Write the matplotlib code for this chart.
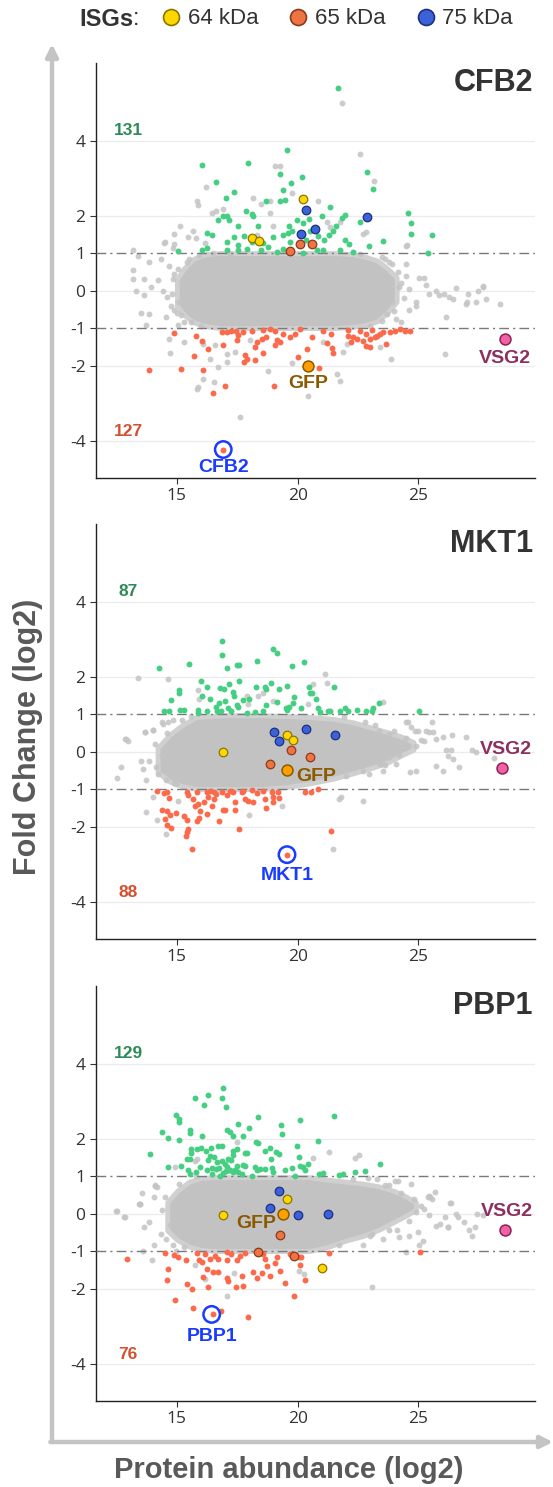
import matplotlib.pyplot as plt
from matplotlib.lines import Line2D

plt.rcParams['font.family'] = ['Liberation Sans', 'DejaVu Sans']
plt.rcParams['axes.unicode_minus'] = False

# ---------------- data ----------------
# CFB2 panel
cfb2_core_x = [15.0, 15.3, 15.7, 16.2, 16.8, 17.5, 21.5, 22.3, 22.8, 23.3, 23.7, 24.1]
cfb2_core_hi = [0.3, 0.6, 0.85, 0.97, 1.0, 1.0, 1.0, 0.97, 0.9, 0.8, 0.6, 0.35]
cfb2_core_lo = [-0.4, -0.65, -0.85, -0.95, -1.0, -1.0, -1.0, -0.97, -0.92, -0.82, -0.6, -0.3]
cfb2_gray = [
    (21.82, 5.01), (22.59, 3.64), (19.06, 3.31), (19.25, 3.32), (16.19, 2.77), (23.16, 2.93),
    (19.78, 2.61), (18.16, 2.47), (15.84, 2.38), (15.88, 2.27), (20.84, 2.39), (16.46, 2.07),
    (16.62, 2.12), (16.92, 2.18), (18.47, 2.31), (18.85, 2.07), (18.96, 1.73), (21.2, 1.82),
    (21.34, 1.69), (15.11, 1.71), (14.89, 1.50), (15.47, 1.44), (15.65, 1.60), (15.81, 1.40),
    (16.16, 1.26), (14.52, 1.29), (14.85, 1.13), (13.19, 1.08), (24.51, 1.22), (22.72, 1.51),
    (22.85, 1.57), (18.85, 2.4), (21.75, 1.82), (18.3, 1.47), (14.48, 1.28), (14.89, 1.24),
    (24.48, 1.19),
    (13.37, 0.91), (13.85, 0.77), (14.34, 0.84), (13.19, 0.55), (13.19, 0.31), (13.65, 0.31),
    (14.2, 0.27), (13.92, 0.09), (13.3, 0.0), (13.65, -0.13), (14.41, 0.0), (14.61, -0.18),
    (13.51, -0.59), (13.85, -0.62), (14.54, -0.71), (14.89, -0.53), (13.72, -0.93), (14.75, -0.4),
    (15.03, 0.58), (14.68, 0.66), (15.17, -0.66), (15.03, -0.93), (14.82, 0.31), (15.5, 0.85),
    (15.3, -0.85), (15.2, 0.1), (15.1, -0.3), (23.5, 0.9), (23.9, -0.3), (24.3, 0.2), (24.6, 0.05),
    (14.9, 0.45), (14.8, -0.1), (15.0, -0.6), (15.4, 0.75), (15.6, -0.85), (15.9, 0.95),
    (16.0, -0.95), (23.9, 0.7), (24.2, 0.1), (24.0, -0.55), (23.6, 0.85), (23.5, -0.8),
    (24.4, -0.2), (24.5, 0.4), (16.5, 1.0), (17.2, 0.98), (22.6, 0.98), (23.0, -0.95),
    (23.79, 0.75), (24.14, 0.49), (24.48, 0.71), (25.03, 0.33), (25.24, 0.33), (25.72, 0.0),
    (26.07, -0.09), (26.28, -0.18), (26.55, 0.06), (26.97, -0.35), (27.38, -0.31), (27.45, 0.0),
    (27.68, 0.09), (28.37, -0.37), (26.14, -0.71), (24.9, -0.31), (24.9, -0.4), (24.62, -0.53),
    (25.45, -0.09), (25.86, -0.13), (24.07, -0.75), (24.27, -0.84), (23.72, -0.62), (27.06, -0.09),
    (25.31, 0.15), (27.69, 0.11), (27.82, -0.22), (27.0, -0.31), (26.44, -0.22),
    (14.68, -1.29), (14.71, -1.67), (15.29, -1.38), (15.88, -2.58), (15.84, -2.62), (16.09, -2.37),
    (16.53, -2.44), (16.70, -2.04), (17.06, -1.69), (17.06, -1.91), (16.37, -1.82), (17.40, -1.63),
    (17.61, -3.38), (18.77, -2.15), (19.75, -1.94), (20.45, -2.82), (21.64, -2.22), (21.75, -2.40),
    (21.89, -1.63), (23.86, -1.83), (26.10, -1.69), (16.09, -1.42), (16.57, -1.44), (18.02, -1.33),
    (21.06, -1.38), (22.03, -1.42), (23.43, -1.51),
]
cfb2_up = [
    (21.68, 5.40), (19.54, 3.75), (16.06, 3.36), (17.93, 3.39), (19.29, 3.11), (20.18, 3.04),
    (22.88, 3.16), (16.64, 2.90), (19.72, 2.87), (23.13, 2.72), (17.36, 2.64), (19.39, 2.68),
    (17.04, 2.46), (19.46, 2.42), (19.27, 2.38), (18.67, 2.40), (21.36, 2.24), (24.59, 2.08),
    (17.86, 2.11), (18.09, 2.04), (18.16, 1.98), (16.92, 2.0), (17.06, 2.0), (20.47, 1.91),
    (21.98, 2.02), (21.83, 1.93), (20.99, 1.99), (16.71, 1.87), (17.17, 1.87), (19.96, 1.87),
    (22.59, 1.82), (24.70, 1.79), (17.53, 1.72), (18.37, 1.71), (19.65, 1.71), (20.23, 1.79),
    (21.58, 1.72), (21.47, 1.59), (16.23, 1.54), (16.45, 1.47), (17.35, 1.42), (17.77, 1.45),
    (19.61, 1.54), (18.98, 1.42), (19.38, 1.49), (20.85, 1.46), (21.09, 1.36), (21.31, 1.47),
    (21.97, 1.35), (23.52, 1.32), (24.70, 1.51), (25.55, 1.49), (22.94, 1.19), (22.14, 1.25),
    (17.08, 1.29), (17.54, 1.22), (18.09, 1.29), (18.58, 1.26), (18.78, 1.16), (15.06, 1.06),
    (16.05, 1.07), (16.26, 1.14), (17.06, 1.08), (17.53, 1.09), (18.48, 1.07), (19.13, 1.02),
    (19.40, 1.10), (20.23, 1.01), (20.80, 1.07), (21.06, 1.07), (21.75, 1.08), (22.30, 1.03),
    (25.41, 1.01), (19.76, 1.60), (20.34, 1.35), (20.51, 1.60), (19.68, 1.29), (17.89, 1.11),
]
cfb2_down = [
    (13.86, -2.12), (15.17, -2.09), (16.10, -2.12), (15.72, -1.75), (16.48, -2.74), (17.00, -2.54),
    (19.03, -2.54), (20.87, -2.07), (20.02, -1.78), (20.37, -1.55), (14.89, -1.13), (15.81, -1.20),
    (16.02, -1.35), (16.28, -1.56), (16.92, -1.44), (16.85, -1.11), (17.06, -1.11), (17.26, -1.07),
    (17.47, -1.33), (17.54, -1.18), (17.75, -1.11), (17.82, -1.73), (17.89, -1.82), (17.77, -1.91),
    (18.09, -1.08), (18.23, -1.51), (18.58, -1.66), (18.23, -1.85), (18.58, -1.05), (18.71, -1.24),
    (18.85, -1.02), (19.06, -1.07), (19.13, -1.33), (19.27, -1.38), (19.40, -1.16), (19.68, -1.24),
    (19.89, -1.16), (20.09, -1.02), (20.58, -1.24), (21.06, -1.09), (21.38, -1.17), (21.23, -1.40),
    (21.41, -1.53), (21.45, -1.66), (22.10, -1.05), (22.30, -1.24), (22.44, -1.29), (22.58, -1.07),
    (22.72, -1.35), (22.85, -1.16), (22.99, -1.29), (23.10, -1.05), (23.20, -1.24), (23.27, -1.20),
    (23.41, -1.16), (23.54, -1.11), (23.68, -1.42), (23.82, -1.11), (24.03, -1.07), (24.23, -1.02),
    (24.44, -1.07), (24.65, -1.08), (22.23, -1.38), (22.85, -1.47), (22.99, -1.51), (22.07, -1.20),
    (17.43, -1.07), (18.51, -1.29), (19.06, -1.44), (18.30, -1.36), (16.92, -4.24),
]
cfb2_isg64 = [(20.22, 2.44), (18.13, 1.41), (18.38, 1.33)]
cfb2_isg65 = [(20.11, 1.24), (20.58, 1.25), (19.67, 1.05)]
cfb2_isg75 = [(20.36, 2.16), (20.14, 1.52), (20.70, 1.64), (22.87, 1.96)]
cfb2_gfp = (20.45, -2.01)
cfb2_vsg2 = (28.58, -1.29)
cfb2_target = (16.92, -4.24)
cfb2_counts = (131, 127)

# MKT1 panel
mkt1_core_x = [14.2, 14.7, 15.2, 15.8, 17.0, 18.5, 19.5, 20.5, 21.5, 22.3, 23.0, 23.7, 24.3, 24.8]
mkt1_core_hi = [0.1, 0.45, 0.7, 0.92, 0.97, 0.97, 0.95, 0.92, 0.87, 0.78, 0.65, 0.52, 0.4, 0.25]
mkt1_core_lo = [-0.55, -0.8, -0.92, -1.0, -1.0, -1.0, -0.95, -0.85, -0.72, -0.58, -0.45, -0.3, -0.1, 0.05]
mkt1_gray = [
    (13.40, 1.97), (14.64, 1.93), (21.12, 2.06), (21.23, 1.82), (20.65, 1.80), (20.44, 1.26),
    (18.99, 1.36), (18.37, 1.49), (17.95, 1.27), (15.86, 1.63), (15.93, 1.40), (23.54, 1.32),
    (17.89, 1.49), (18.58, 1.56), (14.37, 0.80), (14.64, 0.80), (14.02, 0.58), (13.68, 0.52),
    (12.85, 0.34), (24.55, 0.78), (25.57, 0.79), (25.61, 0.51), (24.86, 0.54),
    (12.68, -0.42), (12.50, -0.71), (12.89, 0.34), (12.98, 0.29), (13.69, 0.52), (13.99, 0.58),
    (13.51, -0.24), (13.85, -0.24), (13.58, -0.46), (13.74, -0.77), (14.13, -0.42), (14.20, -0.60),
    (14.1, 0.2), (14.4, -0.1), (14.6, 0.5), (14.9, -0.85), (15.2, 0.85), (15.6, 0.95),
    (24.0, 0.55), (24.5, 0.35), (24.9, 0.15), (25.1, 0.3), (24.2, -0.1), (23.6, -0.35),
    (22.8, 0.8), (21.9, 0.92), (22.0, -0.65), (23.2, 0.7),
    (25.45, 0.52), (25.72, 0.34), (26.00, 0.38), (26.41, 0.43), (26.14, 0.03), (26.35, 0.03),
    (25.72, -0.39), (26.04, -0.51), (26.69, -0.40), (27.24, 0.03), (27.38, -0.02), (28.14, -0.17),
    (24.48, 0.78), (24.69, 0.65), (24.97, 0.56), (25.31, 0.56), (25.24, 0.29), (24.90, -0.51),
    (24.07, -0.33), (23.79, -0.15), (23.45, -0.33), (23.52, -0.51), (22.96, -0.60), (22.69, -0.51),
    (21.79, -1.22), (14.41, 0.74), (14.82, 0.83), (14.55, -0.77), (14.96, -0.86), (23.38, 0.56),
    (23.79, 0.47), (24.34, 0.25), (26.99, 0.38), (26.24, -0.11), (26.44, -0.20), (24.65, -0.55),
    (23.41, -0.33), (14.02, -1.22), (13.74, -1.60), (14.16, -1.82), (14.55, -2.21), (15.06, -1.31),
    (18.00, -1.68), (19.36, -1.44), (21.47, -2.60), (21.72, -1.26), (22.72, -1.32),
]
mkt1_up = [
    (16.85, 2.94), (18.96, 2.73), (19.13, 2.63), (16.86, 2.57), (14.25, 2.22), (15.50, 2.34),
    (17.06, 2.23), (17.47, 2.31), (17.57, 2.31), (18.30, 2.42), (19.78, 2.28), (20.26, 2.38),
    (15.99, 1.87), (16.26, 1.72), (15.10, 1.65), (15.10, 1.56), (16.78, 1.69), (16.96, 1.67),
    (17.17, 1.81), (17.58, 1.88), (17.33, 1.60), (17.36, 1.47), (18.27, 1.72), (18.64, 1.73),
    (18.71, 1.67), (18.89, 1.84), (19.24, 1.67), (19.57, 1.76), (20.48, 1.72), (20.51, 1.56),
    (20.58, 1.56), (21.52, 1.72), (14.75, 1.37), (16.02, 1.49), (16.37, 1.39), (16.73, 1.29),
    (16.64, 1.18), (17.00, 1.36), (17.47, 1.25), (17.75, 1.38), (17.99, 1.41), (17.89, 1.02),
    (18.58, 1.09), (18.69, 1.23), (19.13, 1.31), (19.54, 1.11), (19.65, 1.20), (19.84, 1.45),
    (19.82, 1.30), (20.13, 1.16), (20.78, 1.40), (20.83, 1.16), (20.92, 1.05), (14.46, 1.07),
    (14.67, 1.07), (15.13, 1.12), (15.30, 1.12), (15.88, 1.12), (15.88, 1.02), (16.23, 1.07),
    (16.68, 1.09), (16.82, 1.09), (17.13, 1.16), (17.26, 1.07), (17.54, 1.18), (18.23, 1.05),
    (19.50, 1.16), (21.27, 1.07), (21.34, 1.09), (21.75, 1.09), (21.96, 1.16), (22.10, 1.07),
    (22.44, 1.12), (22.83, 1.08), (23.06, 1.07), (23.13, 1.16), (23.38, 1.29), (25.02, 1.08),
]
mkt1_down = [
    (14.16, -1.06), (14.46, -1.11), (14.60, -1.08), (14.68, -1.24), (14.38, -1.55), (14.61, -1.59),
    (14.71, -1.69), (14.50, -1.80), (14.60, -1.97), (14.75, -2.03), (14.96, -1.65), (15.30, -1.72),
    (15.43, -1.82), (15.47, -2.06), (15.43, -2.15), (15.36, -2.25), (15.64, -2.60), (15.40, -1.08),
    (15.48, -1.16), (15.84, -1.08), (15.68, -1.26), (15.75, -1.44), (15.88, -1.40), (15.95, -1.59),
    (15.82, -1.84), (15.91, -1.78), (16.23, -1.08), (16.30, -1.22), (16.37, -1.04), (16.53, -1.07),
    (16.64, -1.13), (16.12, -1.35), (16.23, -1.66), (16.44, -1.44), (16.53, -1.26), (16.73, -1.84),
    (16.85, -1.08), (16.92, -1.56), (16.99, -1.57), (17.06, -1.17), (17.20, -1.04), (17.33, -1.08),
    (17.42, -1.35), (17.42, -1.55), (17.57, -2.07), (17.68, -1.08), (17.75, -1.04), (17.82, -1.26),
    (17.95, -1.32), (18.09, -1.02), (18.16, -1.35), (18.30, -1.11), (18.58, -1.04), (18.64, -1.26),
    (18.71, -1.50), (18.92, -1.08), (18.96, -1.35), (18.99, -1.22), (19.20, -1.08), (19.22, -1.24),
    (20.30, -1.09), (20.54, -1.08), (20.83, -1.00), (21.38, -2.12), (19.56, -2.75),
]
mkt1_isg64 = [(19.54, 0.44), (19.80, 0.31), (16.89, -0.01)]
mkt1_isg65 = [(19.73, 0.04), (20.52, -0.15), (18.85, -0.33)]
mkt1_isg75 = [(19.04, 0.51), (19.24, 0.27), (20.36, 0.60), (21.53, 0.43)]
mkt1_gfp = (19.58, -0.48)
mkt1_vsg2 = (28.47, -0.44)
mkt1_target = (19.56, -2.75)
mkt1_counts = (87, 88)

# PBP1 panel
pbp1_core_x = [14.6, 15.0, 15.5, 16.0, 16.6, 20.5, 21.3, 22.0, 22.7, 23.4, 24.0, 24.5, 24.9]
pbp1_core_hi = [0.3, 0.6, 0.85, 0.95, 0.97, 0.97, 0.9, 0.85, 0.8, 0.72, 0.6, 0.45, 0.3]
pbp1_core_lo = [-0.45, -0.7, -0.88, -0.97, -1.0, -1.0, -0.88, -0.72, -0.6, -0.42, -0.22, -0.05, 0.1]
pbp1_gray = [
    (17.47, 1.90), (21.30, 1.64), (20.63, 1.49), (22.37, 1.49), (22.55, 1.56), (14.92, 1.24),
    (14.09, 0.73), (14.16, 0.72), (13.54, 0.54), (13.47, 0.26), (15.82, 1.46), (25.45, 0.48),
    (25.55, 0.39), (24.68, 0.79), (24.17, 0.86), (22.92, 0.94), (23.27, 0.92), (26.31, 0.29),
    (15.75, 1.39),
    (12.47, 0.08), (12.82, -0.10), (13.44, 0.26), (14.10, 0.75), (14.06, 0.44), (13.65, -0.36),
    (13.85, -0.23), (14.34, -0.54), (14.54, -0.68), (14.06, -0.85), (14.82, -0.85), (14.96, -1.01),
    (14.4, 0.1), (14.5, 0.45), (14.7, -0.3), (15.1, 0.8), (15.3, -0.9), (15.8, 1.0),
    (24.3, 0.55), (24.8, 0.4), (25.1, 0.2), (24.6, -0.2), (24.1, -0.45), (23.8, 0.75),
    (22.3, 0.92), (21.7, -0.85), (23.0, -0.6),
    (24.90, 0.04), (25.24, 0.12), (25.45, -0.05), (25.72, -0.32), (26.11, -0.10), (26.21, -0.36),
    (26.55, -0.01), (26.90, -0.23), (27.24, -0.59), (27.35, -0.36), (27.66, -0.05), (24.62, -0.59),
    (24.97, -0.50), (24.20, -0.63), (23.79, -0.45), (23.52, -0.68), (23.10, -0.54), (22.69, -0.85),
    (24.48, -1.03), (25.03, -0.85), (25.38, 0.44), (25.70, 0.57), (24.04, 0.88), (23.63, 0.76),
    (12.50, 0.06), (12.85, -0.10), (13.47, 0.26), (13.61, -1.00), (25.48, 0.44), (26.35, 0.28),
    (26.65, -0.08), (26.24, -0.36), (27.11, -0.44), (27.41, -0.01), (25.89, -0.28), (25.20, -0.72),
    (13.95, -1.25), (15.75, -1.36), (16.16, -1.74), (17.38, -1.58), (17.08, -2.21), (20.07, -1.52),
    (20.25, -1.62), (23.10, -1.96),
]
pbp1_up = [
    (16.92, 3.36), (16.27, 3.16), (15.77, 3.08), (16.85, 3.08), (16.12, 2.90), (17.02, 2.83),
    (14.95, 2.64), (15.08, 2.52), (15.07, 2.44), (21.52, 2.61), (18.37, 2.57), (17.53, 2.38),
    (17.97, 2.29), (19.32, 2.35), (19.36, 2.12), (20.09, 2.50), (17.06, 2.23), (17.20, 2.17),
    (17.31, 2.08), (14.39, 2.17), (14.64, 2.02), (15.10, 1.97), (15.53, 2.24), (15.53, 2.16),
    (16.06, 2.06), (17.72, 2.06), (18.26, 1.90), (18.37, 1.87), (20.83, 1.94), (13.88, 1.60),
    (15.58, 1.72), (15.58, 1.61), (15.84, 1.72), (15.98, 1.75), (16.19, 1.66), (16.42, 1.76),
    (16.71, 1.81), (16.87, 1.81), (16.37, 1.53), (17.82, 1.61), (17.89, 1.61), (18.63, 1.68),
    (18.88, 1.46), (19.96, 1.80), (20.07, 1.50), (16.30, 1.44), (16.53, 1.50), (16.68, 1.37),
    (16.85, 1.40), (16.99, 1.32), (17.13, 1.46), (17.26, 1.43), (17.47, 1.28), (17.75, 1.30),
    (17.82, 1.28), (18.44, 1.19), (18.64, 1.19), (18.92, 1.22), (18.99, 1.10), (16.23, 1.16),
    (16.44, 1.21), (16.64, 1.19), (16.75, 1.21), (16.89, 1.08), (17.06, 1.24), (17.17, 1.17),
    (17.31, 1.10), (17.40, 1.15), (17.54, 1.10), (17.68, 1.06), (18.09, 1.01), (18.23, 1.24),
    (18.30, 1.16), (19.47, 1.15), (19.75, 1.22), (19.89, 1.01), (20.09, 1.28), (20.23, 1.24),
    (20.30, 1.15), (20.41, 1.31), (15.54, 1.06), (15.81, 1.10), (16.44, 1.06), (16.78, 1.01),
    (17.03, 1.14), (17.20, 1.15), (17.31, 1.68), (17.47, 1.72), (17.33, 1.56), (18.87, 1.76),
    (19.09, 1.64), (19.22, 1.59), (15.40, 1.46), (15.54, 1.46), (14.64, 1.24), (15.19, 1.28),
    (15.48, 1.16), (15.95, 1.24), (20.87, 1.05), (21.03, 1.08), (21.70, 1.03), (21.89, 1.06),
    (22.37, 1.12), (22.79, 1.14), (23.43, 1.31),
]
pbp1_down = [
    (12.92, -1.21), (14.50, -1.05), (14.89, -1.10), (15.06, -1.16), (15.37, -1.24), (14.64, -1.48),
    (14.61, -1.76), (15.43, -1.88), (15.62, -2.01), (14.92, -2.30), (15.65, -2.51), (16.82, -2.60),
    (16.48, -2.68), (17.95, -2.76), (15.84, -1.05), (15.93, -1.25), (16.02, -1.28), (16.16, -1.08),
    (16.26, -1.48), (16.37, -1.21), (16.50, -1.55), (16.71, -1.55), (16.09, -1.68), (16.30, -1.96),
    (16.57, -1.14), (16.71, -1.21), (17.06, -1.03), (17.08, -1.25), (17.06, -1.72), (17.10, -1.80),
    (17.26, -1.08), (17.47, -1.25), (17.61, -1.12), (17.43, -1.96), (17.75, -1.92), (17.71, -1.67),
    (17.82, -1.06), (18.16, -1.56), (18.33, -1.72), (18.53, -1.59), (18.85, -1.67), (18.58, -1.08),
    (18.64, -1.21), (18.75, -1.39), (19.06, -1.32), (19.13, -1.16), (19.29, -1.52), (19.49, -1.84),
    (19.68, -1.08), (20.07, -1.15), (20.09, -1.36), (20.16, -1.16), (19.86, -2.20), (20.30, -1.77),
    (21.28, -1.05), (25.06, -1.02),
]
pbp1_isg64 = [(19.55, 0.40), (16.90, -0.05), (21.02, -1.45)]
pbp1_isg65 = [(19.28, -0.58), (18.37, -1.02), (19.83, -1.13)]
pbp1_isg75 = [(19.24, 0.59), (18.84, 0.15), (20.02, -0.04), (21.27, -0.02)]
pbp1_gfp = (19.40, -0.01)
pbp1_vsg2 = (28.57, -0.44)
pbp1_target = (16.44, -2.69)
pbp1_counts = (129, 76)

y_ticks = [-4, -2, -1, 0, 1, 2, 4]
x_ticks = [15, 20, 25]
isg_labels = ['64 kDa', '65 kDa', '75 kDa']

# ---------------- styling ----------------
C_GRAY = '#c4c4c4'
C_UP = '#46cf83'
C_DOWN = '#fb6a4a'
ISG_FACE = ['#ffd700', '#ef7444', '#3b62d9']
ISG_EDGE = ['#8b7500', '#8b3a1a', '#1c2f80']


def draw_panel(ax, name, core, gray, up, down, isgs, gfp, vsg2, target, counts,
               gfp_off, vsg_off, tgt_off):
    ax.set_xlim(11.65, 29.83)
    ax.set_ylim(-5.0, 6.07)
    for g in [4, 2, 0, -2, -4]:
        ax.axhline(g, color='#ebebeb', lw=0.9, zorder=0)

    # dense centre of the cloud: thin soft halo, then solid body
    ax.fill_between(core[0], core[2], core[1], facecolor='#c2c2c2', edgecolor='#d0d0d0',
                    lw=3.5, zorder=1)
    ax.scatter([p[0] for p in gray], [p[1] for p in gray], s=18, color=C_GRAY,
               alpha=0.85, lw=0, zorder=2)
    for yl in (1, -1):
        ax.axhline(yl, color='#7a7a7a', lw=1.0, ls=(0, (7, 3, 1.5, 3)), zorder=3)

    ax.scatter([p[0] for p in up], [p[1] for p in up], s=18, color=C_UP, lw=0, zorder=4)
    ax.scatter([p[0] for p in down], [p[1] for p in down], s=18, color=C_DOWN, lw=0, zorder=4)

    for pts, fc, ec in zip(isgs, ISG_FACE, ISG_EDGE):
        ax.scatter([p[0] for p in pts], [p[1] for p in pts], s=38, color=fc,
                   edgecolors=ec, lw=0.9, zorder=6)

    ax.scatter([gfp[0]], [gfp[1]], s=62, color='#ff9f00', edgecolors='#8b5a00', lw=1.1, zorder=7)
    ax.scatter([vsg2[0]], [vsg2[1]], s=62, color='#f261a6', edgecolors='#8b2252', lw=1.1, zorder=7)
    ax.scatter([target[0]], [target[1]], s=140, facecolors='none', edgecolors='#1a3cff',
               lw=1.8, zorder=7)

    ax.annotate('GFP', gfp, xytext=gfp_off[:2], textcoords='offset points', ha=gfp_off[2],
                va='center', fontsize=14, fontweight='bold', color='#8b5a00', zorder=8)
    ax.annotate('VSG2', vsg2, xytext=vsg_off, textcoords='offset points', ha='center',
                va='center', fontsize=14, fontweight='bold', color='#8b3060', zorder=8)
    ax.annotate(name, target, xytext=tgt_off, textcoords='offset points', ha='center',
                va='center', fontsize=14, fontweight='bold', color='#1a3cff', zorder=8)

    ax.text(12.99, 4.28, str(counts[0]), ha='center', va='center', fontsize=12.5,
            fontweight='bold', color='#2e8b57')
    ax.text(12.99, -3.75, str(counts[1]), ha='center', va='center', fontsize=12.5,
            fontweight='bold', color='#d4502f')
    ax.text(0.995, 0.988, name, transform=ax.transAxes, ha='right', va='top',
            fontsize=22, fontweight='bold', color='#333333')

    ax.set_yticks(y_ticks)
    ax.set_xticks(x_ticks)
    for sp in ('top', 'right'):
        ax.spines[sp].set_visible(False)
    for sp in ('left', 'bottom'):
        ax.spines[sp].set_color('#222222')
        ax.spines[sp].set_linewidth(1.0)
    ax.tick_params(length=4, width=0.8, color='#333333', labelcolor='#333333', labelsize=12.5)
    for lab in ax.get_xticklabels() + ax.get_yticklabels():
        lab.set_family(['Open Sans', 'DejaVu Sans'])


fig = plt.figure(figsize=(5.53, 14.87), dpi=100)
W, H = 553.0, 1487.0

bg = fig.add_axes([0, 0, 1, 1], zorder=-5)
bg.set_xlim(0, W)
bg.set_ylim(H, 0)
bg.axis('off')
arrow = dict(arrowstyle='-|>', color='#c4c4c4', lw=3.2, mutation_scale=18, shrinkA=0, shrinkB=0)
bg.annotate('', xy=(52, 44), xytext=(52, 1442), arrowprops=arrow)
bg.annotate('', xy=(553, 1442), xytext=(50.4, 1442), arrowprops=arrow)

panels = [
    ('CFB2', (cfb2_core_x, cfb2_core_hi, cfb2_core_lo), cfb2_gray, cfb2_up, cfb2_down,
     (cfb2_isg64, cfb2_isg65, cfb2_isg75), cfb2_gfp, cfb2_vsg2, cfb2_target, cfb2_counts,
     (0, -13, 'center'), (0, -14), (0, -13), 478),
    ('MKT1', (mkt1_core_x, mkt1_core_hi, mkt1_core_lo), mkt1_gray, mkt1_up, mkt1_down,
     (mkt1_isg64, mkt1_isg65, mkt1_isg75), mkt1_gfp, mkt1_vsg2, mkt1_target, mkt1_counts,
     (6, -5, 'left'), (3, 13), (0, -15), 939),
    ('PBP1', (pbp1_core_x, pbp1_core_hi, pbp1_core_lo), pbp1_gray, pbp1_up, pbp1_down,
     (pbp1_isg64, pbp1_isg65, pbp1_isg75), pbp1_gfp, pbp1_vsg2, pbp1_target, pbp1_counts,
     (-5, -7, 'right'), (2, 13.5), (0, -16), 1401),
]

for (name, core, gray, up, down, isgs, gfp, vsg2, target, counts,
     gfp_off, vsg_off, tgt_off, bottom_px) in panels:
    ax = fig.add_axes([96 / W, 1 - bottom_px / H, (535 - 96) / W, 415 / H])
    draw_panel(ax, name, core, gray, up, down, isgs, gfp, vsg2, target, counts,
               gfp_off, vsg_off, tgt_off)

fig.text(28 / W, 1 - 737 / H, 'Fold Change (log2)', rotation=90, ha='center', va='center',
         fontsize=22, fontweight='bold', color='#595959')
fig.text(289 / W, 1 - 1470 / H, 'Protein abundance (log2)', ha='center', va='center',
         fontsize=21, fontweight='bold', color='#595959')

# legend strip
fig.text(79 / W, 1 - 19 / H, 'ISGs', ha='left', va='center', fontsize=17,
         fontweight='bold', color='#333333')
fig.text(133 / W, 1 - 19 / H, ':', ha='left', va='center', fontsize=17, color='#333333')
handles = [Line2D([], [], ls='none', marker='o', markersize=11.5, markerfacecolor=fc,
                  markeredgecolor=ec, markeredgewidth=1.2)
           for fc, ec in zip(ISG_FACE, ISG_EDGE)]
fig.legend(handles, isg_labels, ncol=3, loc='center left', bbox_to_anchor=(160 / W, 1 - 19 / H),
           frameon=False, fontsize=16, handlelength=1.0, handletextpad=0.25,
           columnspacing=1.3, borderpad=0, borderaxespad=0, labelcolor='#333333')

fig.savefig('out.png', dpi=100)
